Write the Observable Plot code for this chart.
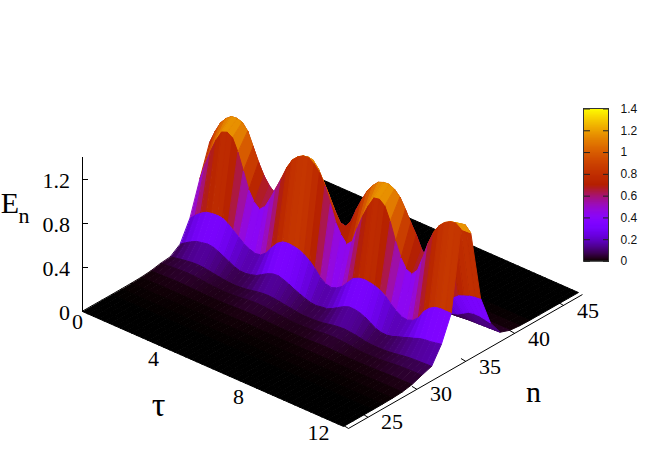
<!DOCTYPE html>
<html><head><meta charset="utf-8">
<script src="https://cdn.jsdelivr.net/npm/d3@7"></script>
<script src="https://cdn.jsdelivr.net/npm/@observablehq/plot@0.6"></script>
<style>html,body{margin:0;padding:0;background:#fff}svg{display:block}</style>
</head><body><div id="chart"></div>
<script>
const tau = [0,.25,.5,.75,1,1.25,1.5,1.75,2,2.25,2.5,2.75,3,3.25,3.5,3.75,4,4.25,4.5,4.75,5,5.25,5.5,5.75,6,6.25,6.5,6.75,7,7.25,7.5,7.75,8,8.25,8.5,8.75,9,9.25,9.5,9.75,10,10.25,10.5,10.75,11,11.25,11.5,11.75,12];
const nRows = [23,24,25,26,27,28,29,30,31,32,33,34,35,36,37,38,39,40,41,42,43,44,45,46,47];
const flat = [0,0,0,0,0,0,0,0,0,0,0,0,0,0,0,0,0,0,0,0,0,0,0,0,0,0,0,0,0,0,0,0,0,0,0,0,0,0,0,0,0,0,0,0,0,0,0,0,0];
const E27 = [.0004,.0005,.0006,.0007,.0007,.0007,.0007,.0007,.0006,.0005,.0004,.0004,.0004,.0004,.0005,.0006,.0007,.0008,.0008,.0008,.0007,.0006,.0005,.0004,.0004,.0004,.0004,.0004,.0005,.0006,.0007,.0008,.0008,.0008,.0007,.0006,.0005,.0004,.0004,.0004,.0005,.0005,.0006,.0007,.0008,.0008,.0008,.0008,.0009];
const E28 = [.0015,.0018,.002,.0025,.003,.003,.003,.0025,.002,.0018,.0016,.0015,.0015,.0016,.002,.0022,.0025,.0028,.003,.0028,.0025,.0022,.002,.0018,.0015,.0015,.0015,.0016,.002,.0022,.0025,.0028,.003,.0028,.0025,.0022,.002,.0018,.0016,.0018,.002,.0022,.0024,.0027,.003,.003,.003,.0031,.0032];
const E29 = [.004,.005,.006,.007,.008,.008,.008,.007,.006,.005,.005,.004,.004,.004,.005,.006,.007,.008,.008,.008,.007,.006,.006,.005,.004,.004,.004,.004,.005,.006,.007,.008,.008,.008,.007,.006,.005,.005,.005,.005,.005,.006,.007,.008,.008,.009,.009,.009,.009];
const E30 = [.012,.015,.017,.019,.021,.022,.021,.019,.017,.015,.013,.012,.012,.013,.014,.017,.02,.022,.023,.022,.02,.018,.016,.014,.012,.012,.012,.013,.014,.017,.02,.022,.023,.022,.02,.017,.014,.013,.013,.013,.014,.016,.018,.021,.023,.024,.024,.025,.026];
const E31 = [.03,.036,.042,.046,.05,.051,.05,.045,.04,.035,.03,.028,.028,.031,.035,.041,.048,.052,.054,.051,.048,.042,.037,.032,.028,.027,.028,.031,.034,.041,.048,.052,.054,.051,.048,.041,.034,.031,.03,.032,.034,.039,.044,.05,.054,.056,.058,.059,.06];
const E32 = [.04,.05,.06,.068,.075,.078,.075,.068,.06,.052,.045,.041,.04,.044,.05,.06,.07,.077,.08,.076,.07,.062,.055,.047,.04,.039,.04,.044,.05,.06,.07,.077,.08,.076,.07,.06,.05,.046,.045,.047,.05,.057,.065,.073,.08,.083,.085,.088,.09];
const E33 = [.105,.14,.17,.195,.205,.215,.21,.19,.165,.14,.115,.10,.10,.11,.125,.155,.185,.205,.21,.195,.175,.15,.13,.11,.095,.09,.10,.105,.13,.16,.19,.21,.21,.20,.18,.15,.12,.105,.105,.115,.135,.15,.17,.185,.205,.215,.22,.23,.24];
const E34 = [.29,.34,.38,.41,.42,.425,.42,.39,.35,.31,.27,.245,.23,.24,.28,.35,.41,.445,.455,.45,.44,.415,.38,.33,.27,.235,.225,.245,.28,.34,.395,.42,.43,.425,.415,.395,.36,.31,.27,.24,.235,.255,.30,.38,.43,.46,.47,.47,.47];
const E35 = [.60,.76,.90,1.02,1.11,1.13,1.10,.99,.84,.69,.60,.56,.61,.71,.82,.93,1.05,1.14,1.19,1.22,1.225,1.19,1.13,1.03,.89,.74,.65,.59,.64,.79,.92,1.03,1.12,1.13,1.09,.97,.81,.68,.60,.58,.64,.78,.93,1.05,1.13,1.18,1.21,1.22,1.185];
const E36 = [.88,1.00,1.10,1.16,1.20,1.205,1.19,1.13,1.01,.89,.79,.72,.68,.75,.85,.97,1.07,1.12,1.14,1.13,1.07,.97,.87,.76,.67,.66,.73,.86,.97,1.07,1.14,1.19,1.21,1.215,1.19,1.14,1.05,.95,.86,.75,.69,.72,.80,.91,1.01,1.09,1.14,1.15,1.10];
const E37 = [.25,.29,.33,.38,.42,.435,.44,.42,.40,.36,.32,.28,.24,.25,.28,.32,.37,.41,.44,.45,.45,.42,.38,.33,.28,.25,.23,.24,.27,.32,.38,.42,.44,.45,.45,.42,.38,.33,.28,.25,.24,.27,.31,.36,.40,.42,.44,.45,.455];
const E38 = [.09,.11,.13,.15,.17,.18,.19,.18,.17,.15,.13,.11,.10,.105,.11,.13,.15,.17,.18,.19,.19,.18,.16,.13,.11,.10,.09,.10,.11,.13,.15,.17,.18,.19,.19,.18,.16,.14,.12,.11,.10,.115,.13,.16,.19,.20,.20,.19,.18];
const E39 = [.02,.025,.03,.035,.04,.043,.045,.043,.04,.035,.03,.025,.02,.022,.025,.03,.035,.038,.04,.043,.045,.04,.035,.03,.025,.022,.02,.022,.025,.03,.035,.038,.04,.043,.045,.04,.035,.03,.025,.022,.02,.025,.03,.033,.035,.038,.04,.043,.045];
const E40 = [.006,.007,.008,.009,.01,.011,.012,.011,.01,.009,.008,.007,.006,.0065,.007,.008,.009,.01,.011,.012,.012,.011,.01,.008,.007,.0065,.006,.0065,.007,.008,.009,.01,.011,.012,.012,.011,.009,.008,.007,.0065,.006,.007,.008,.009,.01,.0105,.011,.0115,.012];
const E41 = [.001,.0015,.002,.002,.002,.0025,.003,.0025,.002,.002,.002,.0015,.001,.0015,.002,.002,.002,.0025,.003,.003,.003,.0025,.002,.002,.002,.0015,.001,.0015,.002,.002,.002,.0025,.003,.003,.003,.0025,.002,.002,.002,.0015,.001,.0015,.002,.002,.002,.0025,.003,.003,.003];
const rows = [flat,flat,flat,flat,E27,E28,E29,E30,E31,E32,E33,E34,E35,E36,E37,E38,E39,E40,E41,flat,flat,flat,flat,flat,flat];
const zTicks = [0,.4,.8,1.2], zLabels = ["0","0.4","0.8","1.2"];
const tauTicks = [0,4,8,12], nTicks = [25,30,35,40,45];
const barTicks = [0,.2,.4,.6,.8,1,1.2,1.4], barLabels = ["0","0.2","0.4","0.6","0.8","1","1.2","1.4"];
const Emax = 1.4, n0 = 23, n1 = 47;

// axonometric view of (tau, n, E) onto the plot's x / y scales
const px = (t, n) => 82 + 21.75 * t + 9.79 * (n - n0);
const py = (t, n, e) => 311 + 9.58 * t - 5.58 * (n - n0) - 110 * e;
// gnuplot's default pm3d palette (rgbformulae 7,5,15)
const palette = t => {
  const b = Math.sin(2 * Math.PI * t);
  return d3.rgb(255 * Math.sqrt(t), 255 * t * t * t, 255 * Math.max(0, b)) + "";
};

// far-to-near quads
const quads = [];
for (let i = 0; i < tau.length - 1; i++) {
  for (let j = nRows.length - 2; j >= 0; j--) {
    const c = [[i,j],[i+1,j],[i+1,j+1],[i,j+1]];
    const v = d3.mean(c, ([a,b]) => rows[b][a]);
    for (const [a,b] of c) quads.push({id: i + "-" + j, v, x: px(tau[a], nRows[b]), y: py(tau[a], nRows[b], rows[b][a])});
  }
}
const barY = d3.scaleLinear([0, Emax], [261, 108.5]);
const barSteps = d3.range(0, 140).map(i => ({a: i / 100, b: (i + 1) / 100}));
const serif = "Liberation Serif", sans = "Liberation Sans";
const tauLabelX = {0: 77, 4: 153, 8: 238, 12: 318};
const tauLabelY = {0: 321, 4: 358, 8: 396, 12: 432};

const plot = Plot.plot({
  width: 664, height: 465, margin: 0,
  x: {domain: [0, 664], range: [0, 664], axis: null},
  y: {domain: [0, 465], range: [0, 465], axis: null},
  color: {type: "linear", domain: [0, Emax], interpolate: palette},
  style: {background: "#fff"},
  marks: [
    // vertical axis
    Plot.ruleX([px(0, n0)], {y1: py(0, n0, 0), y2: py(0, n0, 1.4), stroke: "#000"}),
    Plot.link(zTicks, {x1: () => px(0, n0), x2: () => px(0, n0) + 5.5, y1: d => py(0, n0, d), y2: d => py(0, n0, d), stroke: "#000"}),
    Plot.text(zTicks, {x: () => px(0, n0) - 12.5, y: d => py(0, n0, d) + 1, text: (d, i) => zLabels[i], textAnchor: "end", fontFamily: serif, fontSize: 22, fill: "#000"}),
    // surface
    Plot.line(quads, {x: "x", y: "y", z: "id", fill: "v", stroke: "v", strokeWidth: 1, curve: "linear-closed"}),
    // n axis
    Plot.link([0], {x1: () => px(12, n0) + 5, y1: () => py(12, n0, 0) + 2, x2: () => px(12, n1) + 4, y2: () => py(12, n1, 0) + 2, stroke: "#000"}),
    Plot.link(nTicks, {x1: d => px(12, d) + 5, y1: d => py(12, d, 0) + 2, x2: d => px(12, d) + 0, y2: d => py(12, d, 0) - 1, stroke: "#000"}),
    Plot.link([0], {x1: () => px(12, n0) + 5, y1: () => py(12, n0, 0) + 2, x2: () => px(12, n0), y2: () => py(12, n0, 0) - 1, stroke: "#000"}),
    Plot.text(nTicks, {x: d => px(12, d) + 29, y: d => py(12, d, 0) + 7, text: d => String(d), fontFamily: serif, fontSize: 22, fill: "#000"}),
    // tau labels
    Plot.text(tauTicks, {x: d => tauLabelX[d], y: d => tauLabelY[d], text: d => String(d), fontFamily: serif, fontSize: 22, fill: "#000"}),
    // axis titles
    Plot.text(["τ"], {x: () => 158, y: () => 405, fontFamily: serif, fontSize: 34, fill: "#000"}),
    Plot.text(["n"], {x: () => 533, y: () => 392, fontFamily: serif, fontSize: 30, fill: "#000"}),
    Plot.text(["E"], {x: () => 9.5, y: () => 203, fontFamily: serif, fontSize: 30, fill: "#000"}),
    Plot.text(["n"], {x: () => 23.5, y: () => 215, fontFamily: serif, fontSize: 22, fill: "#000"}),
    // colour box
    Plot.rect(barSteps, {x1: () => 583.5, x2: () => 608.5, y1: d => barY(d.a), y2: d => barY(d.b), fill: d => d.a, stroke: d => d.a, strokeWidth: 1}),
    Plot.link(barTicks, {x1: () => 583.5, x2: () => 589.5, y1: d => barY(d), y2: d => barY(d), stroke: "#222"}),
    Plot.link(barTicks, {x1: () => 602.5, x2: () => 608.5, y1: d => barY(d), y2: d => barY(d), stroke: "#222"}),
    Plot.rect([0], {x1: () => 583.5, x2: () => 608.5, y1: () => barY(0), y2: () => barY(Emax), fill: "none", stroke: "#333", strokeWidth: 1}),
    Plot.text(barTicks, {x: () => 620, y: d => barY(d), text: (d, i) => barLabels[i], textAnchor: "start", fontFamily: sans, fontSize: 12, fill: "#111"})
  ]
});
document.getElementById("chart").appendChild(plot);
</script></body></html>
